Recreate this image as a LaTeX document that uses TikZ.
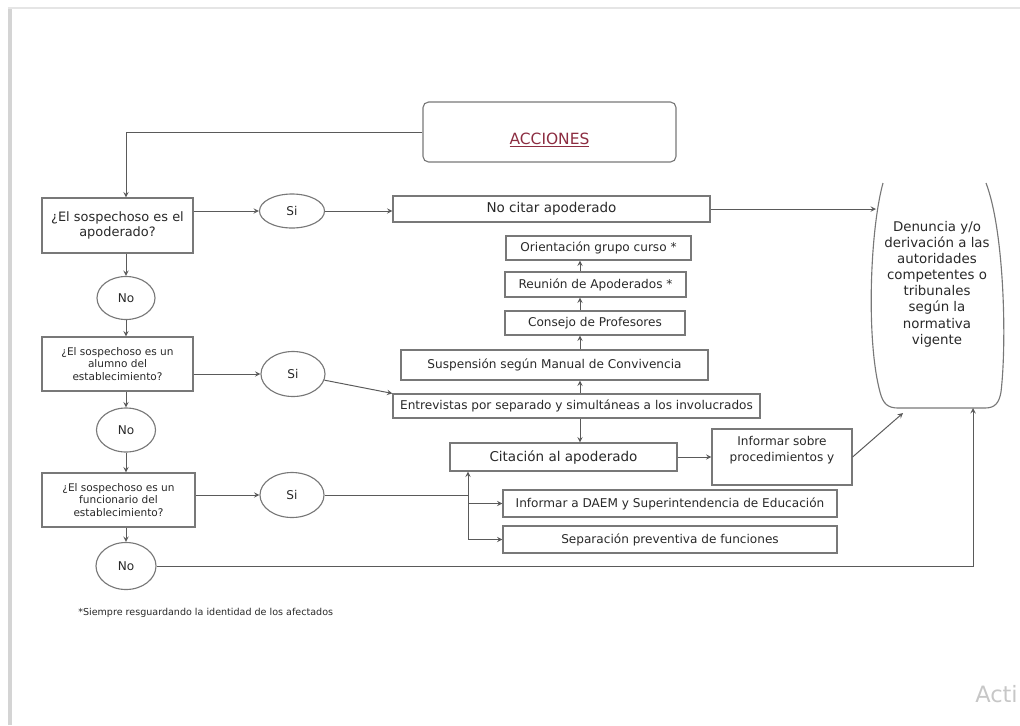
\documentclass[tikz,border=0pt]{standalone}
\usepackage{fontspec}
\setmainfont{DejaVu Sans}
\usetikzlibrary{shapes.geometric}

\definecolor{borde}{RGB}{120,120,120}
\definecolor{linea}{RGB}{90,90,90}
\definecolor{texto}{RGB}{40,40,40}
\definecolor{titulo}{RGB}{140,45,65}
\definecolor{marco}{RGB}{212,212,212}

\begin{document}
\begin{tikzpicture}[x=0.025cm, y=-0.025cm, >=stealth,
  caja/.style={draw=borde, line width=0.8pt, rectangle, inner sep=1pt, align=center,
    text=texto, font=\fontsize{8.6}{10.6}\selectfont},
  elipse/.style={draw=borde, line width=0.8pt, ellipse, inner sep=0pt,
    text=texto, font=\fontsize{8.6}{10.6}\selectfont},
  conector/.style={draw=linea, line width=0.7pt}]
  \useasboundingbox (0,0) rectangle (1020,725);
  % marco de la captura
  \draw[marco, line width=2.2pt] (10,725) -- (10,8);
  \draw[marco!60, line width=1pt] (8,8) -- (1020,8);
  % titulo
  \node[caja, rounded corners=4pt, minimum width=6.325cm, minimum height=1.5cm,
    label={[text=titulo, font=\fontsize{11}{13}\selectfont, yshift=-0.2cm]center:\underline{ACCIONES}}]
    (acc) at (549.5,132) {};
  % preguntas
  \node[caja, minimum width=3.775cm, minimum height=1.375cm, font=\fontsize{9.2}{10.6}\selectfont]
    (p1) at (117.5,225.5) {¿El sospechoso es el\\apoderado?};
  \node[caja, minimum width=3.775cm, minimum height=1.35cm, font=\fontsize{7.5}{9.2}\selectfont]
    (p2) at (117.5,364) {¿El sospechoso es un\\alumno del\\establecimiento?};
  \node[caja, minimum width=3.825cm, minimum height=1.35cm, font=\fontsize{7.5}{9.2}\selectfont]
    (p3) at (118.5,500) {¿El sospechoso es un\\funcionario del\\establecimiento?};
  % respuestas
  \node[elipse, minimum width=1.45cm, minimum height=1.075cm] (no1) at (126,298) {No};
  \node[elipse, minimum width=1.475cm, minimum height=1.1cm] (no2) at (126,430) {No};
  \node[elipse, minimum width=1.5cm, minimum height=1.175cm] (no3) at (126,566) {No};
  \node[elipse, minimum width=1.625cm, minimum height=0.85cm] (si1) at (292,211) {Si};
  \node[elipse, minimum width=1.6cm, minimum height=1.125cm] (si2) at (293,374) {Si};
  \node[elipse, minimum width=1.6cm, minimum height=1.125cm] (si3) at (292,495) {Si};
  % acciones
  \node[caja, minimum width=7.925cm, minimum height=0.65cm, font=\fontsize{9.6}{11}\selectfont]
    (nocitar) at (551.5,209) {No citar apoderado};
  \node[caja, minimum width=4.625cm, minimum height=0.6cm] (orient) at (598.5,248) {Orientación grupo curso *};
  \node[caja, minimum width=4.525cm, minimum height=0.625cm] (reunion) at (595.5,284.5) {Reunión de Apoderados *};
  \node[caja, minimum width=4.5cm, minimum height=0.6cm] (consejo) at (595,323) {Consejo de Profesores};
  \node[caja, minimum width=7.675cm, minimum height=0.75cm] (susp) at (554.5,365) {Suspensión según Manual de Convivencia};
  \node[caja, minimum width=9.175cm, minimum height=0.6cm] (entrev) at (576.5,406)
    {Entrevistas por separado y simultáneas a los involucrados};
  \node[caja, minimum width=5.675cm, minimum height=0.7cm, font=\fontsize{9.6}{11}\selectfont]
    (cit) at (563.5,457) {Citación al apoderado};
  \node[caja, minimum width=3.5cm, minimum height=1.4cm, font=\fontsize{8.6}{11.3}\selectfont]
    (infsobre) at (782,457) {Informar sobre\\procedimientos y\\\mbox{}};
  \node[caja, minimum width=8.35cm, minimum height=0.675cm] (daem) at (670,503.5)
    {Informar a DAEM y Superintendencia de Educación};
  \node[caja, minimum width=8.35cm, minimum height=0.675cm] (sep) at (670,539.5)
    {Separación preventiva de funciones};
  % denuncia
  \draw[borde, line width=0.8pt] (883,183) .. controls (870,230) and (866,340) .. (880,392)
    .. controls (883,404) and (888,408) .. (898,408) -- (985,408)
    .. controls (995,408) and (999,403) .. (1001,392)
    .. controls (1007,340) and (1004,230) .. (986,183);
  \node[align=center, text=texto, font=\fontsize{9.5}{11.5}\selectfont] (den) at (937,284)
    {Denuncia y/o\\derivación a las\\autoridades\\competentes o\\tribunales\\según la\\normativa\\vigente};
  \coordinate (denL) at (876,209);
  \coordinate (denBL) at (903,413);
  \coordinate (denB) at (973,408);
  % conectores
  \draw[conector, ->] (acc.west) -| (no1 |- p1.north);
  \draw[conector, ->] (no1 |- p1.south) -- (no1);
  \draw[conector, ->] (no1) -- (no1 |- p2.north);
  \draw[conector, ->] (no2 |- p2.south) -- (no2);
  \draw[conector, ->] (no2) -- (no2 |- p3.north);
  \draw[conector, ->] (no3 |- p3.south) -- (no3);
  \draw[conector, ->] (no3) -| (denB);
  \draw[conector, ->] (p1.east |- si1) -- (si1);
  \draw[conector, ->] (p2.east |- si2) -- (si2);
  \draw[conector, ->] (p3.east |- si3) -- (si3);
  \draw[conector, ->] (si1) -- (si1 -| nocitar.west);
  \draw[conector, ->] (nocitar.east) -- (denL);
  \draw[conector, ->] (si2) -- (entrev.north west);
  % pila de acciones
  \coordinate (eje) at (580,0);
  \draw[conector, ->] (eje |- reunion.north) -- (eje |- orient.south);
  \draw[conector, ->] (eje |- consejo.north) -- (eje |- reunion.south);
  \draw[conector, ->] (eje |- susp.north) -- (eje |- consejo.south);
  \draw[conector, ->] (eje |- entrev.north) -- (eje |- susp.south);
  \draw[conector, ->] (eje |- entrev.south) -- (eje |- cit.north);
  \draw[conector, ->] (cit) -- (infsobre);
  \draw[conector, ->] (infsobre.east) -- (denBL);
  % funcionario
  \coordinate (nodo) at (468,495);
  \draw[conector] (si3) -- (nodo);
  \draw[conector, ->] (nodo |- sep) -- (nodo |- cit.south);
  \draw[conector, ->] (nodo |- daem) -- (daem.west);
  \draw[conector, ->] (nodo |- sep) -- (sep.west);
  % nota
  \node[anchor=west, inner sep=0pt, text=texto, font=\fontsize{6.8}{8}\selectfont] (nota) at (78,613)
    {*Siempre resguardando la identidad de los afectados};
  \node[anchor=west, inner sep=0pt, text=black!22, font=\fontsize{16}{18}\selectfont] (acti) at (975,694) {Acti};
\end{tikzpicture}
\end{document}
